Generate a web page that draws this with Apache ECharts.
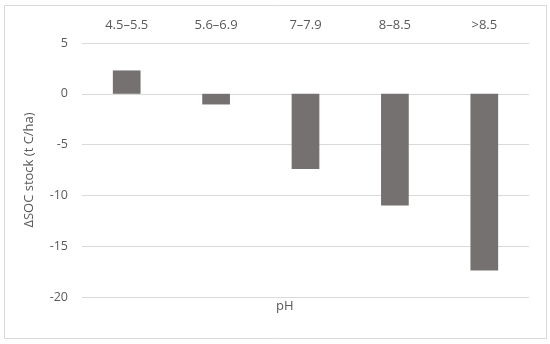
<!DOCTYPE html>
<html><head><meta charset="utf-8">
<script src="https://cdn.jsdelivr.net/npm/echarts@6/dist/echarts.min.js"></script>
<style>html,body{margin:0;padding:0;background:#fff}#c{width:550px;height:344px}</style>
</head><body><div id="c"></div>
<script>
const categories = ['4.5–5.5', '5.6–6.9', '7–7.9', '8–8.5', '>8.5'];
const socChange = [2.3, -1.05, -7.4, -11.0, -17.4];
const yTicks = { min: -20, max: 5, interval: 5 };
const xTitle = 'pH';
const yTitle = 'ΔSOC stock (t C/ha)';

const font = 'Open Sans, Liberation Sans, sans-serif';
const chart = echarts.init(document.getElementById('c'), null, { renderer: 'canvas' });
chart.setOption({
  animation: false,
  backgroundColor: '#fff',
  graphic: [{
    type: 'rect', shape: { x: 4.5, y: 5.5, width: 542, height: 333 },
    style: { fill: 'none', stroke: '#d9d9d9', lineWidth: 1 }, silent: true
  }, {
    type: 'text', left: 276, top: 300,
    style: { text: xTitle, fill: '#595959', font: '13px ' + font }
  }],
  grid: { left: 82, right: 21, top: 43, bottom: 47 },
  xAxis: {
    type: 'category', data: categories, position: 'top',
    axisLine: { show: false }, axisTick: { show: false },
    axisLabel: { color: '#595959', fontSize: 13, fontFamily: font, margin: 11 }
  },
  yAxis: {
    type: 'value', min: yTicks.min, max: yTicks.max, interval: yTicks.interval,
    name: yTitle, nameLocation: 'middle', nameGap: 46, nameRotate: 90,
    nameTextStyle: { color: '#595959', fontSize: 13, fontFamily: font },
    axisLine: { show: false }, axisTick: { show: false },
    axisLabel: { color: '#595959', fontSize: 12.5, fontFamily: font, margin: 14 },
    splitLine: { lineStyle: { color: '#d9d9d9', width: 1 } }
  },
  series: [{
    type: 'bar', data: socChange, barWidth: '31%',
    itemStyle: { color: '#767171' }
  }]
});
</script></body></html>
